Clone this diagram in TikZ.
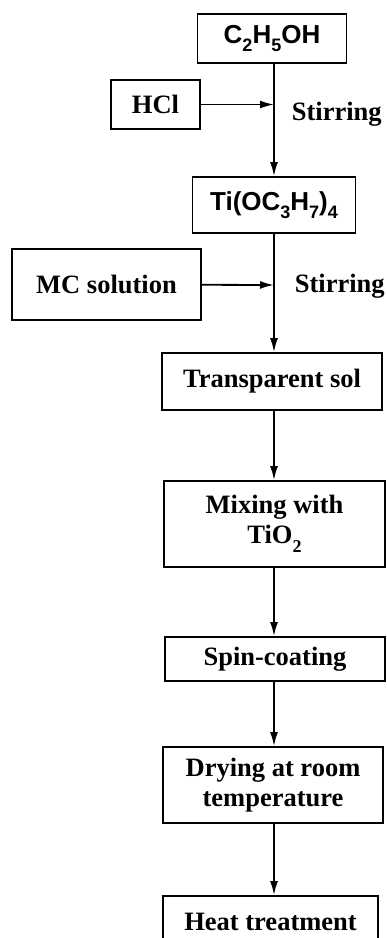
\documentclass[tikz,border=0pt]{standalone}
\usepackage{fontspec}
\setmainfont{Liberation Serif}
\setsansfont{Liberation Sans}
\usetikzlibrary{positioning, arrows.meta}
\newcommand{\lowsub}[1]{\raisebox{-0.32em}{\fontsize{18}{18}\selectfont #1}}

\begin{document}
\begin{tikzpicture}[x=1pt, y=-1pt, line width=1.8pt, >={Latex[length=14pt,width=8pt]},
  box/.style={draw, inner sep=0pt, align=center, font=\fontsize{26.5}{30}\selectfont\bfseries},
  chem/.style={box, font=\fontsize{26}{30}\selectfont\sffamily\bfseries},
  note/.style={anchor=west, inner sep=0pt, font=\fontsize{26.5}{30}\selectfont\bfseries}]
  \useasboundingbox (0,0) rectangle (386,938);
  \clip (0,0) rectangle (386,938);
  \node[chem, minimum width=149pt, minimum height=49pt] (etoh) at (272,38.5) {C\lowsub{2}H\lowsub{5}OH};
  \node[box, minimum width=89pt, minimum height=49pt] (hcl) at (155.5,104.5) {HCl};
  \node[chem, minimum width=163pt, minimum height=56pt] (ttip) at (274,205) {Ti(OC\lowsub{3}H\lowsub{7})\lowsub{4}};
  \node[box, minimum width=189pt, minimum height=71pt] (mc) at (106.5,284.5) {MC solution};
  \node[box, minimum width=220pt, minimum height=57pt] (sol) at (272,381.5) {Transparent sol};
  \node[box, minimum width=221pt, minimum height=86pt] (mix) at (274.5,524) {Mixing with\\TiO\lowsub{2}};
  \node[box, minimum width=220pt, minimum height=44pt] (spin) at (275,659) {Spin-coating};
  \node[box, minimum width=220pt, minimum height=76pt] (dry) at (273,785) {Drying at room\\temperature};
  \node[box, minimum width=215pt, minimum height=52pt] (heat) at (270.5,922) {Heat treatment};
  \node[note] (stir1) at (291,114) {Stirring};
  \node[note] (stir2) at (294,286) {Stirring};
  % main line runs at x = 274
  \coordinate (j1) at (274,104.5);
  \coordinate (j2) at (274,285);
  \draw (etoh.south -| j1) -- (j1);
  \draw[->] (j1) -- (ttip.north -| j1);
  \draw[->] (hcl) -- (j1);
  \draw (ttip.south -| j2) -- (j2);
  \draw[->] (j2) -- (sol.north -| j2);
  \draw[->] (mc) -- (j2);
  \draw[->] (sol.south -| j2) -- (mix.north -| j2);
  \draw[->] (mix.south -| j2) -- (spin.north -| j2);
  \draw[->] (spin.south -| j2) -- (dry.north -| j2);
  \draw[->] (dry.south -| j2) -- (heat.north -| j2);
\end{tikzpicture}
\end{document}
